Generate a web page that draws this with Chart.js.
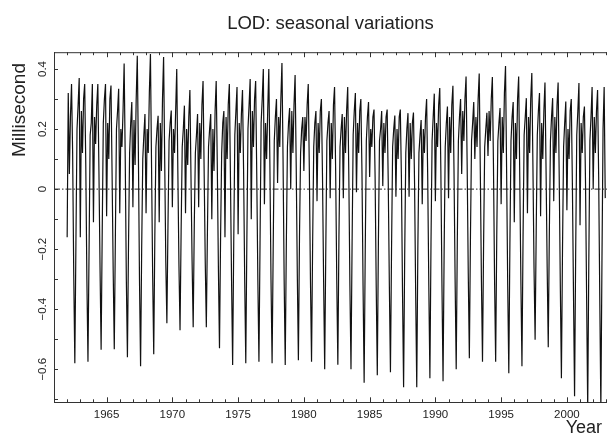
<!DOCTYPE html>
<html>
<head>
<meta charset="utf-8">
<title>LOD: seasonal variations</title>
<script src="https://cdn.jsdelivr.net/npm/chart.js@4.4.1/dist/chart.umd.min.js"></script>
<style>
  html, body { margin: 0; padding: 0; background: #fff; }
  #lod-chart { display: block; }
</style>
</head>
<body>
<canvas id="lod-chart" width="607" height="436"></canvas>
<script>
/* ===== LOD seasonal variations ===== */

// monthly samples, first one is Jan 1962
const startYear = 1962;
const samplesPerYear = 12;

// values in ms, one row per year (Jan..Dec)
const lod1962_1969 = [
  -0.16, 0.32, 0.05, 0.24, 0.35, 0.12, -0.28, -0.58, -0.18, 0.20, 0.28, 0.37,
  -0.16, 0.26, 0.12, 0.30, 0.35, 0.08, -0.30, -0.575, -0.20, 0.18, 0.22, 0.35,
  -0.11, 0.24, 0.15, 0.28, 0.35, 0.06, -0.26, -0.535, -0.14, 0.22, 0.30, 0.35,
  -0.09, 0.22, 0.10, 0.30, 0.345, 0.05, -0.27, -0.533, -0.16, 0.20, 0.26, 0.334,
  -0.08, 0.20, 0.14, 0.26, 0.418, 0.10, -0.30, -0.56, -0.18, 0.12, 0.22, 0.29,
  -0.06, 0.23, 0.08, 0.30, 0.444, 0.12, -0.30, -0.59, -0.20, 0.10, 0.18, 0.25,
  -0.08, 0.20, 0.12, 0.32, 0.45, 0.08, -0.28, -0.55, -0.16, 0.14, 0.20, 0.244,
  -0.11, 0.22, 0.06, 0.30, 0.44, 0.10, -0.24, -0.447, -0.12, 0.16, 0.22, 0.262
];
const lod1970_1979 = [
  -0.06, 0.20, 0.12, 0.26, 0.40, 0.06, -0.25, -0.47, -0.14, 0.14, 0.20, 0.278,
  -0.08, 0.20, 0.08, 0.24, 0.33, 0.04, -0.24, -0.46, -0.12, 0.12, 0.18, 0.25,
  -0.06, 0.22, 0.10, 0.28, 0.36, 0.06, -0.24, -0.46, -0.14, 0.14, 0.20, 0.25,
  -0.10, 0.20, 0.06, 0.26, 0.36, 0.08, -0.26, -0.53, -0.16, 0.12, 0.22, 0.26,
  -0.16, 0.24, 0.10, 0.28, 0.35, 0.04, -0.30, -0.586, -0.18, 0.18, 0.26, 0.34,
  -0.15, 0.22, 0.12, 0.25, 0.33, 0.06, -0.30, -0.58, -0.16, 0.20, 0.28, 0.367,
  -0.10, 0.26, 0.14, 0.30, 0.36, 0.05, -0.30, -0.575, -0.18, 0.22, 0.30, 0.40,
  -0.05, 0.22, 0.10, 0.26, 0.40, 0.08, -0.30, -0.58, -0.20, 0.16, 0.24, 0.30,
  0.02, 0.24, 0.14, 0.30, 0.42, 0.10, -0.30, -0.586, -0.18, 0.14, 0.22, 0.27,
  0.00, 0.26, 0.12, 0.28, 0.38, 0.08, -0.28, -0.57, -0.16, 0.12, 0.20, 0.24
];
const lod1980_1989 = [
  0.06, 0.24, 0.16, 0.28, 0.35, 0.06, -0.30, -0.575, -0.18, 0.14, 0.22, 0.26,
  -0.04, 0.22, 0.12, 0.26, 0.30, 0.04, -0.30, -0.60, -0.20, 0.16, 0.22, 0.26,
  -0.03, 0.22, 0.10, 0.28, 0.34, 0.06, -0.30, -0.585, -0.16, 0.14, 0.20, 0.25,
  -0.03, 0.24, 0.12, 0.26, 0.34, 0.05, -0.32, -0.60, -0.18, 0.18, 0.26, 0.32,
  -0.01, 0.22, 0.12, 0.26, 0.30, 0.06, -0.32, -0.645, -0.20, 0.16, 0.24, 0.29,
  0.04, 0.20, 0.14, 0.24, 0.265, 0.04, -0.32, -0.62, -0.18, 0.16, 0.20, 0.26,
  0.01, 0.22, 0.12, 0.24, 0.265, 0.02, -0.32, -0.61, -0.20, 0.14, 0.20, 0.245,
  -0.025, 0.20, 0.10, 0.24, 0.265, 0.04, -0.34, -0.66, -0.22, 0.12, 0.20, 0.253,
  -0.025, 0.22, 0.10, 0.22, 0.255, 0.02, -0.34, -0.66, -0.20, 0.12, 0.18, 0.23,
  -0.05, 0.20, 0.12, 0.24, 0.30, 0.04, -0.32, -0.63, -0.18, 0.16, 0.24, 0.318
];
const lod1990_1999 = [
  -0.04, 0.22, 0.14, 0.28, 0.337, 0.06, -0.32, -0.64, -0.20, 0.14, 0.22, 0.275,
  -0.03, 0.24, 0.12, 0.28, 0.344, 0.06, -0.30, -0.60, -0.18, 0.16, 0.24, 0.30,
  0.05, 0.26, 0.16, 0.30, 0.375, 0.08, -0.28, -0.563, -0.16, 0.16, 0.22, 0.29,
  0.10, 0.24, 0.14, 0.30, 0.385, 0.06, -0.30, -0.575, -0.18, 0.14, 0.20, 0.254,
  0.11, 0.26, 0.16, 0.30, 0.373, 0.08, -0.30, -0.575, -0.16, 0.16, 0.22, 0.27,
  -0.05, 0.24, 0.12, 0.32, 0.41, 0.06, -0.32, -0.613, -0.18, 0.16, 0.24, 0.29,
  -0.11, 0.22, 0.10, 0.30, 0.375, 0.04, -0.30, -0.59, -0.16, 0.18, 0.24, 0.303,
  -0.08, 0.24, 0.12, 0.30, 0.387, 0.08, -0.26, -0.502, -0.14, 0.18, 0.26, 0.32,
  -0.09, 0.22, 0.10, 0.26, 0.355, 0.06, -0.26, -0.527, -0.14, 0.16, 0.24, 0.303,
  -0.04, 0.24, 0.12, 0.28, 0.355, 0.04, -0.32, -0.63, -0.20, 0.14, 0.22, 0.292
];
const lod2000_2002 = [
  -0.07, 0.20, 0.10, 0.26, 0.30, 0.02, -0.34, -0.69, -0.22, 0.18, 0.26, 0.353,
  -0.12, 0.22, 0.12, 0.24, 0.275, 0.02, -0.36, -0.73, -0.24, 0.16, 0.24, 0.34,
  0.00, 0.24, 0.12, 0.26, 0.33, 0.04, -0.36, -0.73, -0.24, 0.20, 0.34, -0.03
];

const xTickYears = [1965, 1970, 1975, 1980, 1985, 1990, 1995, 2000];
const yTickValues = [0.4, 0.3, 0.2, 0.1, 0, -0.1, -0.2, -0.3, -0.4, -0.5, -0.6, -0.7];
const yLabelValues = [0.4, 0.2, 0, -0.2, -0.4, -0.6];

const lodValues = [...lod1962_1969, ...lod1970_1979, ...lod1980_1989, ...lod1990_1999, ...lod2000_2002];
const lodPoints = lodValues.map((v, i) => ({ x: startYear + i / samplesPerYear, y: v }));

const FONT = "'Liberation Sans', Arial, sans-serif";
const INK = '#222';

function fmtY(v) {
  if (Math.abs(v) < 1e-9) return '0';
  return (v < 0 ? '\u2212' : '') + Math.abs(v).toFixed(1);
}

// R-style frame: inward ticks, rotated y labels, axis titles at the ends
const frame = {
  id: 'frame',
  afterDraw(chart) {
    const { ctx, chartArea: a, scales: { x, y } } = chart;
    ctx.save();
    ctx.strokeStyle = '#333';
    ctx.lineWidth = 1;
    ctx.beginPath();
    ctx.moveTo(a.left, a.top + 0.5);
    ctx.lineTo(a.right, a.top + 0.5);
    for (let yr = 1961; yr <= 2003; yr++) {
      const px = Math.round(x.getPixelForValue(yr)) + 0.5;
      const len = yr % 5 === 0 ? 5 : 3;
      ctx.moveTo(px, a.bottom);
      ctx.lineTo(px, a.bottom - len);
      ctx.moveTo(px, a.top);
      ctx.lineTo(px, a.top + len);
    }
    yTickValues.forEach(v => {
      const py = Math.round(y.getPixelForValue(v)) + 0.5;
      ctx.moveTo(a.left, py);
      ctx.lineTo(a.left + 4, py);
    });
    ctx.stroke();

    ctx.fillStyle = INK;
    ctx.textAlign = 'center';
    ctx.textBaseline = 'middle';
    ctx.font = '11.5px ' + FONT;
    yLabelValues.forEach(v => {
      ctx.save();
      ctx.translate(42.5, y.getPixelForValue(v));
      ctx.rotate(-Math.PI / 2);
      ctx.fillText(fmtY(v), 0, 0);
      ctx.restore();
    });

    ctx.font = '19px ' + FONT;
    ctx.save();
    ctx.translate(20, 110);
    ctx.rotate(-Math.PI / 2);
    ctx.fillText('Millisecond', 0, 0);
    ctx.restore();

    ctx.font = '18px ' + FONT;
    ctx.textAlign = 'right';
    ctx.fillText('Year', 602, 428);
    ctx.restore();
  }
};

const ctx = document.getElementById('lod-chart').getContext('2d');
new Chart(ctx, {
  type: 'line',
  data: {
    datasets: [
      {
        data: lodPoints,
        borderColor: '#111',
        borderWidth: 1.2,
        pointRadius: 0,
        tension: 0,
        order: 2
      },
      {
        // zero reference line, drawn over the series
        data: [{ x: 1961, y: 0 }, { x: 2003.05, y: 0 }],
        borderColor: '#222',
        borderWidth: 1,
        borderDash: [6, 2, 1.5, 2],
        pointRadius: 0,
        order: 1
      }
    ]
  },
  options: {
    responsive: false,
    devicePixelRatio: 1,
    animation: false,
    layout: { padding: 0 },
    plugins: {
      legend: { display: false },
      tooltip: { enabled: false },
      title: {
        display: true,
        fullSize: false,
        text: 'LOD: seasonal variations',
        color: INK,
        font: { family: FONT, size: 18.5, weight: 'normal' },
        padding: { top: 13, bottom: 17 }
      }
    },
    scales: {
      x: {
        type: 'linear',
        min: 1961,
        max: 2003.05,
        grid: { display: false },
        border: { display: true, color: '#333', width: 1 },
        ticks: {
          color: INK,
          font: { family: FONT, size: 11.5 },
          padding: -2,
          maxRotation: 0,
          callback: v => String(v)
        },
        afterBuildTicks: s => { s.ticks = xTickYears.map(v => ({ value: v })); },
        afterFit: s => { s.height = 33.7; }
      },
      y: {
        min: -0.71,
        max: 0.456,
        grid: { display: false },
        border: { display: true, color: '#333', width: 1 },
        ticks: { display: false },
        afterFit: s => { s.width = 54; }
      }
    }
  },
  plugins: [frame]
});
</script>
</body>
</html>
